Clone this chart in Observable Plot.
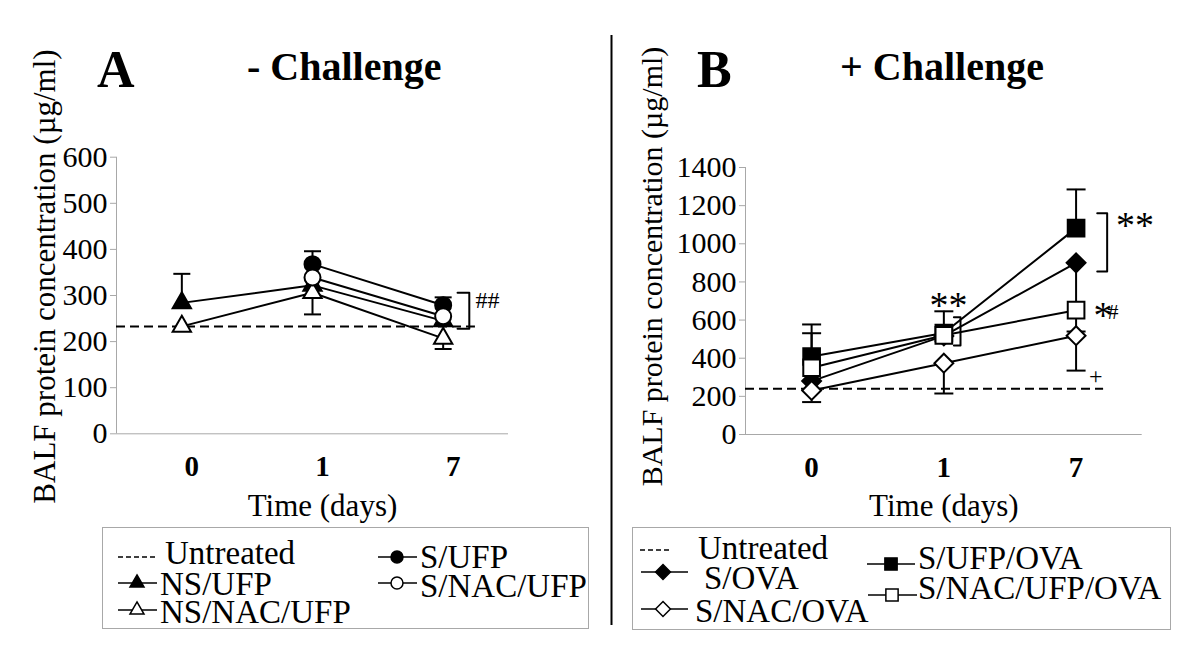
<!DOCTYPE html>
<html><head><meta charset="utf-8">
<script src="https://cdn.jsdelivr.net/npm/d3@7"></script>
<script src="https://cdn.jsdelivr.net/npm/@observablehq/plot@0.6"></script>
<style>
html,body{margin:0;padding:0;background:#fff;}
#page{position:relative;width:1200px;height:657px;overflow:hidden;background:#fff;font-family:"Liberation Serif","Times New Roman",Tinos,"DejaVu Serif",serif;}
#page > svg{position:absolute;}
#page text{font-family:"Liberation Serif","Times New Roman",Tinos,"DejaVu Serif",serif;}
</style></head><body><div id="page"></div>
<script>
// ---------- data ----------
const days = ["0", "1", "7"];
const dayIdx = [0, 1, 2];
const yLabel = "BALF protein concentration (\u00b5g/ml)";
const xLabel = "Time (days)";

// Panel A: - Challenge
const ticksA = [0, 100, 200, 300, 400, 500, 600];
const untreatedA = 233;
const seriesA = ["NS/UFP", "NS/NAC/UFP", "S/UFP", "S/NAC/UFP"];
const nsUfp = [284, 322, 245];
const nsUfpEnd = [347, null, null];
const nsNacUfp = [233, 306, 207];
const nsNacUfpEnd = [null, 259, 184];
const sUfp = [null, 368, 279];
const sUfpEnd = [null, 396, 296];
const sNacUfp = [null, 339, 255];
const sNacUfpEnd = [null, null, null];

// Panel B: + Challenge
const ticksB = [0, 200, 400, 600, 800, 1000, 1200, 1400];
const untreatedB = 240;
const seriesB = ["S/UFP/OVA", "S/OVA", "S/NAC/UFP/OVA", "S/NAC/OVA"];
const sUfpOva = [409, 532, 1082];
const sUfpOvaEnd = [577, 646, 1285];
const sOva = [280, 517, 900];
const sOvaEnd = [null, null, 540];
const sNacUfpOva = [350, 520, 652];
const sNacUfpOvaEnd = [531, null, null];
const sNacOva = [231, 374, 518];
const sNacOvaEnd = [170, 215, 335];

// significance annotations (data space: day index, value)
const bracketA = [{x: 2.11, y: 306}, {x: 2.2, y: 306}, {x: 2.2, y: 228}, {x: 2.11, y: 228}];
const notesA = [{x: 2.247, y: 289, t: "##", size: 24}];
const bracketB1 = [{x: 1.076, y: 615}, {x: 1.126, y: 615}, {x: 1.126, y: 467}, {x: 1.076, y: 467}];
const bracketB7 = [{x: 2.16, y: 1160}, {x: 2.235, y: 1160}, {x: 2.235, y: 855}, {x: 2.16, y: 855}];
const notesB = [
  {x: 1.036, y: 673, t: "**", size: 38, anchor: "middle"},
  {x: 2.446, y: 1093, t: "**", size: 38, anchor: "middle"},
  {x: 2.132, y: 621, t: "*", size: 38, anchor: "start"},
  {x: 2.238, y: 640, t: "#", size: 22, anchor: "start"},
  {x: 2.148, y: 307, t: "+", size: 24, anchor: "middle"}
];

// ---------- styles ----------
const FONT = "\"Liberation Serif\",\"Times New Roman\",Tinos,\"DejaVu Serif\",serif";
const GRAY = "#a8a8a8";
const styleA = {
  "NS/UFP": {symbol: "triangle", fill: "black", r: 6.8},
  "NS/NAC/UFP": {symbol: "triangle", fill: "white", r: 6.8},
  "S/UFP": {symbol: "circle", fill: "black", r: 8},
  "S/NAC/UFP": {symbol: "circle", fill: "white", r: 8}
};
const styleB = {
  "S/UFP/OVA": {symbol: "square", fill: "black", r: 9.4},
  "S/OVA": {symbol: "diamond2", fill: "black", r: 8.5},
  "S/NAC/UFP/OVA": {symbol: "square", fill: "white", r: 9.4},
  "S/NAC/OVA": {symbol: "diamond2", fill: "white", r: 8.5}
};

// ---------- helpers ----------
const toRows = (name, means) => means.flatMap((v, i) => v == null ? [] : [{series: name, x: i, y: v}]);
const toErr = (name, means, ends) => ends.flatMap((v, i) => v == null || means[i] == null ? [] : [{series: name, x: i, y1: means[i], y2: v}]);
const cap = w => ({draw(ctx) { ctx.moveTo(-w / 2, 0); ctx.lineTo(w / 2, 0); }});

const rowsA = [
  ...toRows("NS/UFP", nsUfp), ...toRows("NS/NAC/UFP", nsNacUfp),
  ...toRows("S/UFP", sUfp), ...toRows("S/NAC/UFP", sNacUfp)
];
const errA = [
  ...toErr("NS/UFP", nsUfp, nsUfpEnd), ...toErr("NS/NAC/UFP", nsNacUfp, nsNacUfpEnd),
  ...toErr("S/UFP", sUfp, sUfpEnd), ...toErr("S/NAC/UFP", sNacUfp, sNacUfpEnd)
];
const rowsB = [
  ...toRows("S/UFP/OVA", sUfpOva), ...toRows("S/OVA", sOva),
  ...toRows("S/NAC/UFP/OVA", sNacUfpOva), ...toRows("S/NAC/OVA", sNacOva)
];
const errB = [
  ...toErr("S/UFP/OVA", sUfpOva, sUfpOvaEnd), ...toErr("S/OVA", sOva, sOvaEnd),
  ...toErr("S/NAC/UFP/OVA", sNacUfpOva, sNacUfpOvaEnd), ...toErr("S/NAC/OVA", sNacOva, sNacOvaEnd)
];

function panel(o) {
  const [y0, y1] = o.yDomain;
  return Plot.plot({
    width: o.width, height: o.height,
    marginLeft: o.ml, marginRight: o.mr, marginTop: o.mt, marginBottom: o.mb,
    x: {domain: [-0.5, 2.5]},
    y: {domain: o.yDomain},
    style: {fontFamily: FONT, fontSize: "30px", color: "black", background: "transparent", overflow: "visible"},
    marks: [
      Plot.ruleX([-0.5], {y1: y0, y2: y1, stroke: GRAY}),
      Plot.ruleY([y0], {x1: -0.5, x2: 2.5, stroke: GRAY}),
      Plot.axisY({ticks: o.ticks, tickFormat: d => String(d), tickSize: 6, tickPadding: 3, stroke: GRAY, fill: "black", fontSize: 30, label: null}),
      Plot.axisX({ticks: dayIdx, tickFormat: i => days[i], tickSize: 0, tickPadding: 22, fontWeight: "bold", fontSize: 29, dx: o.xdx, label: null}),
      Plot.text([xLabel], {text: d => d, frameAnchor: "bottom", textAnchor: "middle", lineAnchor: "middle", dy: 72, dx: o.xdx, fontSize: 31}),
      Plot.text([yLabel], {text: d => d, frameAnchor: "left", textAnchor: "middle", lineAnchor: "middle", rotate: -90, dx: o.ylx, dy: o.yly, fontSize: o.ylSize}),
      Plot.ruleY([o.untreated], {x1: -0.5, x2: o.dashEnd, stroke: "black", strokeWidth: 2, strokeDasharray: "9,5"}),
      Plot.ruleX(o.err, {x: "x", y1: "y1", y2: "y2", stroke: "black", strokeWidth: 2}),
      Plot.dot(o.err, {x: "x", y: "y2", symbol: cap(o.capW), stroke: "black", strokeWidth: 2, fill: "none"}),
      Plot.line(o.rows, {x: "x", y: "y", z: "series", stroke: "black", strokeWidth: 2}),
      ...o.series.map(s => Plot.dot(o.rows.filter(d => d.series === s), {
        x: "x", y: "y", symbol: o.style[s].symbol, r: o.style[s].r,
        fill: o.style[s].fill, stroke: "black", strokeWidth: 2
      })),
      ...o.brackets.map(b => Plot.line(b, {x: "x", y: "y", stroke: "black", strokeWidth: 2})),
      ...o.notes.map(n => Plot.text([n], {x: "x", y: "y", text: "t", fontSize: n.size, textAnchor: n.anchor || "start"}))
    ]
  });
}

const page = document.getElementById("page");

const svgA = panel({
  width: 610, height: 520, ml: 116, mr: 102, mt: 156.7, mb: 86.7,
  yDomain: [0, 600], ticks: ticksA, xdx: 10, ylx: -71, yly: -19, ylSize: 31,
  untreated: untreatedA, dashEnd: 2.247, err: errA, rows: rowsA, capW: 17,
  series: seriesA, style: styleA, brackets: [bracketA], notes: notesA
});
svgA.style.left = "0px"; svgA.style.top = "0px";
page.appendChild(svgA);

const svgB = panel({
  width: 590, height: 520, ml: 135, mr: 58.3, mt: 167, mb: 86,
  yDomain: [0, 1400], ticks: ticksB, xdx: 0, ylx: -93, yly: -34.5, ylSize: 30,
  untreated: untreatedB, dashEnd: 2.208, err: errB, rows: rowsB, capW: 19,
  series: seriesB, style: styleB, brackets: [bracketB1, bracketB7], notes: notesB
});
svgB.style.left = "610px"; svgB.style.top = "0px";
page.appendChild(svgB);

// ---------- titles, separator and legends ----------
const ov = d3.select(page).append("svg")
  .attr("width", 1200).attr("height", 657)
  .style("left", "0px").style("top", "0px")
  .attr("font-family", FONT);

const titles = [
  {x: 97, y: 87, t: "A", size: 52},
  {x: 247, y: 80, t: "- Challenge", size: 40},
  {x: 697, y: 87, t: "B", size: 52},
  {x: 840, y: 80, t: "+ Challenge", size: 40}
];
ov.selectAll("text.title").data(titles).join("text").attr("class", "title")
  .attr("x", d => d.x).attr("y", d => d.y).attr("font-size", d => d.size)
  .attr("font-weight", "bold").text(d => d.t);

ov.append("line").attr("x1", 611.5).attr("x2", 611.5).attr("y1", 35).attr("y2", 625)
  .attr("stroke", "black").attr("stroke-width", 2);

// legend boxes
ov.append("rect").attr("x", 102.5).attr("y", 527.5).attr("width", 486).attr("height", 101)
  .attr("fill", "none").attr("stroke", GRAY);
ov.append("rect").attr("x", 632.5).attr("y", 527.5).attr("width", 538).attr("height", 102)
  .attr("fill", "none").attr("stroke", GRAY);

const symType = {triangle: d3.symbolTriangle, circle: d3.symbolCircle, square: d3.symbolSquare, diamond2: d3.symbolDiamond2};
const legendItems = [
  {label: "Untreated", dash: true, x1: 118, x2: 155, y: 557, tx: 165, ty: 564},
  {label: "NS/UFP", sym: "triangle", fill: "black", size: 85, x1: 118, x2: 157, cx: 137, y: 583, tx: 160, ty: 595},
  {label: "NS/NAC/UFP", sym: "triangle", fill: "white", size: 85, x1: 118, x2: 157, cx: 137, y: 610, tx: 160, ty: 623},
  {label: "S/UFP", sym: "circle", fill: "black", size: 113, x1: 378, x2: 417, cx: 397, y: 557, tx: 420, ty: 568},
  {label: "S/NAC/UFP", sym: "circle", fill: "white", size: 113, x1: 378, x2: 417, cx: 397, y: 583, tx: 420, ty: 597},
  {label: "Untreated", dash: true, x1: 640, x2: 672, y: 550, tx: 698, ty: 559},
  {label: "S/OVA", sym: "diamond2", fill: "black", size: 140, x1: 641, x2: 688, cx: 663, y: 572, tx: 704, ty: 589},
  {label: "S/NAC/OVA", sym: "diamond2", fill: "white", size: 140, x1: 641, x2: 688, cx: 663, y: 609, tx: 695, ty: 622},
  {label: "S/UFP/OVA", sym: "square", fill: "black", size: 150, x1: 867, x2: 915, cx: 891, y: 564, tx: 918, ty: 569},
  {label: "S/NAC/UFP/OVA", sym: "square", fill: "white", size: 150, x1: 868, x2: 917, cx: 892, y: 595, tx: 918, ty: 599}
];
const lg = ov.selectAll("g.leg").data(legendItems).join("g").attr("class", "leg");
lg.append("line").attr("x1", d => d.x1).attr("x2", d => d.x2).attr("y1", d => d.y).attr("y2", d => d.y)
  .attr("stroke", "black").attr("stroke-width", 1.6).attr("stroke-dasharray", d => d.dash ? "5,3" : null);
lg.filter(d => d.sym).append("path")
  .attr("d", d => d3.symbol(symType[d.sym], d.size)())
  .attr("transform", d => `translate(${d.cx},${d.y})`)
  .attr("fill", d => d.fill).attr("stroke", "black").attr("stroke-width", 1.5);
lg.append("text").attr("x", d => d.tx).attr("y", d => d.ty).attr("font-size", 33).text(d => d.label);
</script></body></html>
